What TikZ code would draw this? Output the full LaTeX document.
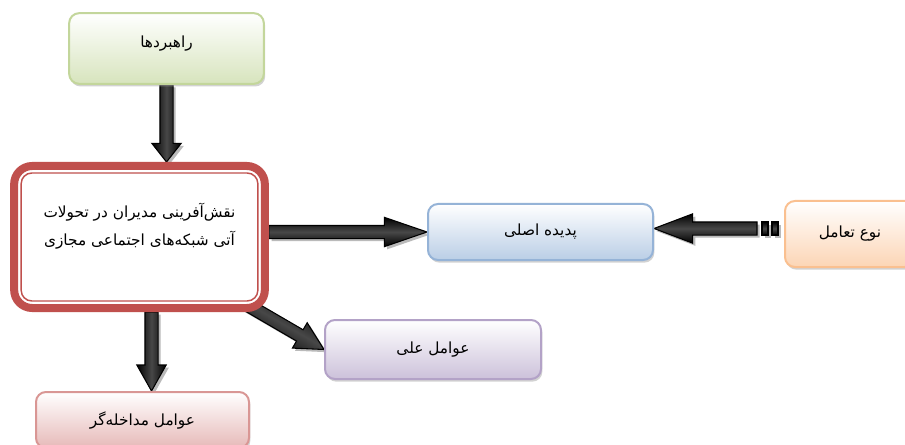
\documentclass[tikz,border=0pt]{standalone}
\usepackage{fontspec}
\usetikzlibrary{calc,shadows,backgrounds}
\newfontfamily\farsi[Script=Arabic]{DejaVu Sans}
\TeXXeTstate=1
\definecolor{redline}{HTML}{C0504D}
\definecolor{grnline}{HTML}{C3D69B}
\definecolor{grnfill}{HTML}{D7E4BD}
\definecolor{bluline}{HTML}{95B3D7}
\definecolor{blufill}{HTML}{BACEE6}
\definecolor{oraline}{HTML}{FAC090}
\definecolor{orafill}{HTML}{FCD5B5}
\definecolor{purline}{HTML}{B3A2C7}
\definecolor{purfill}{HTML}{CCC1DA}
\definecolor{pnkline}{HTML}{D99694}
\definecolor{pnkfill}{HTML}{E6B9B8}

\tikzset{
  box/.style n args={2}{draw=#1, top color=white, bottom color=#2,
    rounded corners=7.5pt, line width=1.5pt,
    font=\farsi\fontsize{11.5}{13}\selectfont,
    drop shadow={shadow xshift=1pt, shadow yshift=-2pt, fill=black!35, opacity=.5}},
  arrowbody/.style={draw=black, line width=0.8pt,
    top color=black, bottom color=black, middle color=black!72,
    general shadow={fill=black!45, shadow xshift=2pt, shadow yshift=-2pt, opacity=.6}}
}

% block arrow: [head length]{shading angle}{from}{to}
\newcommand{\blockarrow}[4][15pt]{%
  \path (#3) coordinate (ba-s) (#4) coordinate (ba-t);
  \path ($(ba-t)!#1!(ba-s)$) coordinate (ba-h);
  \shade[arrowbody, shading angle=#2]
    ($(ba-s)!4.9pt!90:(ba-t)$) -- ($(ba-h)!4.9pt!-90:(ba-s)$)
    -- ($(ba-h)!11pt!-90:(ba-s)$) -- (ba-t)
    -- ($(ba-h)!11pt!90:(ba-s)$) -- ($(ba-h)!4.9pt!90:(ba-s)$)
    -- ($(ba-s)!4.9pt!-90:(ba-t)$) -- cycle;
}

\begin{document}
\begin{tikzpicture}[x=0.75pt, y=-0.75pt]
\useasboundingbox (0,0) rectangle (905,445);
\clip (0,0) rectangle (905,445);

% boxes
\node[box={grnline}{grnfill}, minimum width=146pt, minimum height=53pt] (grn) at (166.5,48.5)
  {\raisebox{1pt}[0pt][0pt]{\beginR راهبردها\endR}};
\node[draw=redline, fill=white, line width=6pt, rounded corners=13.5pt,
  minimum width=188pt, minimum height=106.5pt,
  font=\farsi\fontsize{11.5}{21}\selectfont] (red) at (139.5,237)
  {\raisebox{5.5pt}[0pt][0pt]{\begin{tabular}{@{}c@{}}
   \beginR نقش‌آفرینی مدیران در تحولات\endR\\
   \beginR آتی شبکه‌های اجتماعی مجازی\endR
   \end{tabular}}};
\draw[redline, line width=1.1pt, rounded corners=8pt]
  ([shift={(11,11)}]red.north west) rectangle ([shift={(-11,-11)}]red.south east);
\node[box={bluline}{blufill}, minimum width=168.75pt, minimum height=42pt] (blu) at (540.5,232)
  {\beginR پدیده اصلی\endR};
\node[box={oraline}{orafill}, minimum width=97.5pt, minimum height=49.5pt] (ora) at (850,234)
  {\beginR نوع تعامل\endR};
\node[box={purline}{purfill}, minimum width=162pt, minimum height=44.25pt] (pur) at (433,349.5)
  {\beginR عوامل علی\endR};
\node[box={pnkline}{pnkfill}, minimum width=159.75pt, minimum height=42pt] (pnk) at (142.5,420)
  {\beginR عوامل مداخله‌گر\endR};

% arrows
\coordinate (dn) at ($(red.south)+(12,0)$);
\coordinate (diag) at ($(red.south east)+(-23,-8)$);
\coordinate (tl) at ($(blu.east -| ora.west)+(-27,-3.5)$);
\begin{pgfonlayer}{background}
\fill[white] (0,0) rectangle (905,445);
\blockarrow[14pt]{90}{grn.south}{grn.south |- red.north}
\blockarrow[32pt]{0}{red.east |- blu.west}{blu.west}
\blockarrow[29pt]{0}{tl}{tl -| blu.east}
\shade[arrowbody] ($(tl)+(5,-6.5)$) rectangle ($(tl)+(11,6.5)$);
\shade[arrowbody] ($(tl)+(15,-6.5)$) rectangle ($(tl)+(21,6.5)$);
\blockarrow[19.5pt]{90}{dn}{dn |- pnk.north}
\blockarrow[21pt]{-30}{diag}{pur.west}
\end{pgfonlayer}
\end{tikzpicture}
\end{document}
